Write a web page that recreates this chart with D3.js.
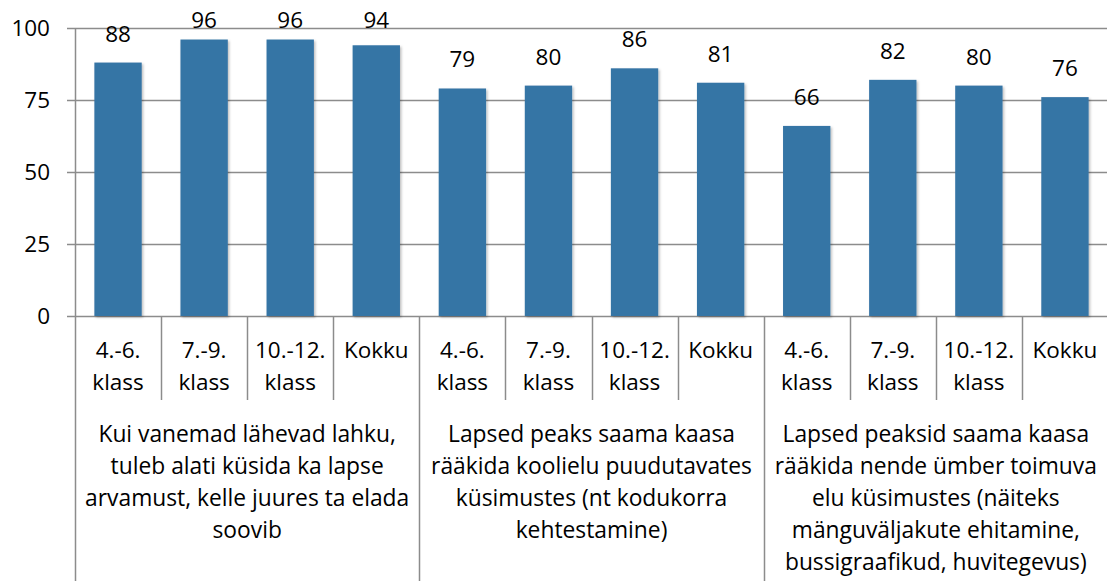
<!DOCTYPE html>
<html>
<head>
<meta charset="utf-8">
<script src="https://cdn.jsdelivr.net/npm/d3@7"></script>
<style>
  body { margin: 0; background: #fff; }
  text { font-family: "Open Sans", sans-serif; fill: #000; }
</style>
</head>
<body>
<div id="chart"></div>
<script>
var values = [88, 96, 96, 94, 79, 80, 86, 81, 66, 82, 80, 76];
var classLabels = [["4.-6.", "klass"], ["7.-9.", "klass"], ["10.-12.", "klass"], ["Kokku"]];
var groupLabels = [
    ["Kui vanemad lähevad lahku,", "tuleb alati küsida ka lapse", "arvamust, kelle juures ta elada", "soovib"],
    ["Lapsed peaks saama kaasa", "rääkida koolielu puudutavates", "küsimustes (nt kodukorra", "kehtestamine)"],
    ["Lapsed peaksid saama kaasa", "rääkida nende ümber toimuva", "elu küsimustes (näiteks", "mänguväljakute ehitamine,", "bussigraafikud, huvitegevus)"]
];
var yTicks = [0, 25, 50, 75, 100];

var width = 1107, height = 581;
var margin = {top: 28, right: 0, bottom: 265, left: 75};
var plotW = 1108 - margin.left;
var plotH = height - margin.top - margin.bottom;
var fs = "22.5px";

var svg = d3.select("#chart").append("svg")
    .attr("width", width)
    .attr("height", height);

var defs = svg.append("defs");
var f = defs.append("filter").attr("id", "shadow")
    .attr("x", "-10%").attr("y", "-10%").attr("width", "130%").attr("height", "130%");
f.append("feDropShadow").attr("dx", 1.5).attr("dy", 1.5).attr("stdDeviation", 1.2)
    .attr("flood-color", "#000").attr("flood-opacity", 0.25);

var g = svg.append("g").attr("transform", "translate(" + margin.left + "," + margin.top + ")");

var x = d3.scaleBand().domain(d3.range(values.length)).range([0, plotW]).paddingInner(0.45).paddingOuter(0.225);
var step = x.step();
var y = d3.scaleLinear().domain([0, 100]).range([plotH, 0]);

// gridlines
g.selectAll(".grid").data(yTicks).enter().append("line")
    .attr("x1", -8).attr("x2", plotW)
    .attr("y1", function(d) { return Math.round(y(d)) + 0.5; })
    .attr("y2", function(d) { return Math.round(y(d)) + 0.5; })
    .attr("stroke", "#8c8c8c").attr("stroke-width", 1.5);

// y tick labels
g.selectAll(".ylab").data(yTicks).enter().append("text")
    .attr("x", -25).attr("y", function(d) { return y(d); })
    .attr("dy", "0.36em")
    .attr("text-anchor", "end")
    .style("font-size", fs)
    .text(function(d) { return d; });

// bars
g.selectAll(".bar").data(values).enter().append("rect")
    .attr("x", function(d, i) { return x(i); })
    .attr("y", function(d) { return y(d); })
    .attr("width", x.bandwidth())
    .attr("height", function(d) { return plotH - y(d); })
    .attr("fill", "#3574a5")
    .attr("filter", "url(#shadow)");

// value labels
g.selectAll(".val").data(values).enter().append("text")
    .attr("x", function(d, i) { return x(i) + x.bandwidth() / 2; })
    .attr("y", function(d) { return Math.max(y(d) - 21, 0); })
    .attr("text-anchor", "middle")
    .style("font-size", fs)
    .text(function(d) { return d; });

// y axis line (goes all the way down as first group separator)
g.append("line")
    .attr("x1", 0.5).attr("x2", 0.5).attr("y1", 0).attr("y2", height - margin.top)
    .attr("stroke", "#8c8c8c").attr("stroke-width", 1.5);

// class separators
d3.range(1, values.length).forEach(function(i) {
    var long = i % 4 === 0;
    g.append("line")
        .attr("x1", Math.round(i * step) + 0.5).attr("x2", Math.round(i * step) + 0.5)
        .attr("y1", plotH).attr("y2", long ? height - margin.top : plotH + 84)
        .attr("stroke", "#8c8c8c").attr("stroke-width", 1.5);
});

// class labels
values.forEach(function(v, i) {
    var lines = classLabels[i % 4];
    var t = g.append("text")
        .attr("text-anchor", "middle")
        .attr("x", (i + 0.5) * step)
        .attr("y", plotH + 42)
        .style("font-size", fs);
    lines.forEach(function(l, k) {
        t.append("tspan").attr("x", (i + 0.5) * step).attr("dy", k === 0 ? 0 : 32).text(l);
    });
});

// group labels
groupLabels.forEach(function(lines, gi) {
    var cx = (gi * 4 + 2) * step;
    var t = g.append("text")
        .attr("text-anchor", "middle")
        .attr("x", cx)
        .attr("y", plotH + 126)
        .style("font-size", "22.8px");
    lines.forEach(function(l, k) {
        t.append("tspan").attr("x", cx).attr("dy", k === 0 ? 0 : 32).text(l);
    });
});
</script>
</body>
</html>
